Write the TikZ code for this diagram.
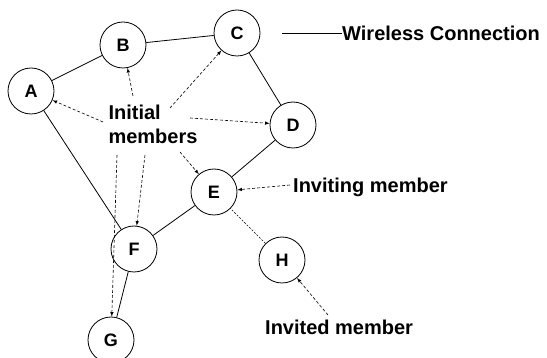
\documentclass[tikz,border=0pt]{standalone}
\usepackage{fontspec}
\setmainfont{Liberation Sans}
\tikzset{
    member/.style={draw, circle, minimum size=46pt, inner sep=0pt, line width=0.8pt, font=\fontsize{18}{20}\selectfont\bfseries},
    label/.style={font=\fontsize{20}{24}\selectfont\bfseries, inner sep=0pt},
    link/.style={line width=0.8pt},
    pointer/.style={->, >=latex, line width=0.6pt, dash pattern=on 3pt off 2pt},
}
\begin{document}
\begin{tikzpicture}[x=1pt, y=-1pt]
    \useasboundingbox (0,0) rectangle (547,358);

    \node[member] (A) at (31,91) {A};
    \node[member] (B) at (123,45) {B};
    \node[member] (C) at (237,33) {C};
    \node[member] (D) at (293,125) {D};
    \node[member] (E) at (214,192) {E};
    \node[member] (F) at (134,249) {F};
    \node[member] (G) at (111,340) {G};
    \node[member] (H) at (282,260) {H};

    \draw[link] (A) -- (B);
    \draw[link] (B) -- (C);
    \draw[link] (C) -- (D);
    \draw[link] (D) -- (E);
    \draw[link] (E) -- (F);
    \draw[link] (F) -- (A);
    \draw[link] (F) -- (G);

    % labels
    \node[label, align=left] (init) at (153,124) {Initial\\members};
    \node[label, anchor=west] (inviting) at (293,187) {Inviting member};
    \node[label, anchor=west] (invited) at (265,327) {Invited member};
    \node[label, anchor=west] (wireless) at (342,33) {Wireless Connection};
    \coordinate (wl) at (282,33);
    \draw[link] (wl) -- (wireless.west);

    \coordinate (toA) at (103,122);
    \coordinate (toB) at (133,96);
    \coordinate (toC) at (170,108);
    \coordinate (toD) at (190,118);
    \coordinate (toE) at (180,152);
    \coordinate (toF) at (145,155);
    \coordinate (toG) at (117,155);
    \coordinate (toinviting) at (290,185);
    \coordinate (toinvited) at (328,315);

    \draw[pointer] (toA) -- (A);
    \draw[pointer] (toB) -- (B);
    \draw[pointer] (toC) -- (C);
    \draw[pointer] (toD) -- (D);
    \draw[pointer] (toE) -- (E);
    \draw[pointer] (toF) -- (F);
    \draw[pointer] (toG) -- (G);

    \draw[pointer] (toinviting) -- (E);
    \draw[pointer] (toinvited) -- (H);
    \draw[line width=0.6pt, dash pattern=on 2pt off 1.5pt] (H) -- (E);

\end{tikzpicture}
\end{document}
